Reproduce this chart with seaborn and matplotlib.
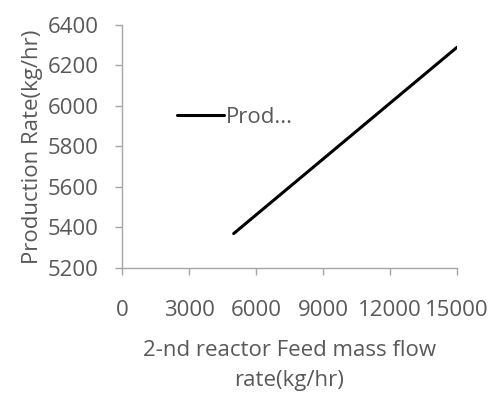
import matplotlib
matplotlib.use("Agg")
import matplotlib.pyplot as plt
import seaborn as sns
import pandas as pd

feed_flow = [5000, 10000, 15000]
production = [5370, 5830, 6290]
series_name = "Prod..."
x_ticks = [0, 3000, 6000, 9000, 12000, 15000]
y_ticks = [5200, 5400, 5600, 5800, 6000, 6200, 6400]

sns.set_theme(style="white")
plt.rcParams['font.family'] = ['Open Sans', 'DejaVu Sans']

df = pd.DataFrame({"x": feed_flow, "y": production, "s": series_name})

fig = plt.figure(figsize=(4.93, 4.03), dpi=100)
ax = fig.add_axes([0.2475, 0.335, 0.6795, 0.603])
sns.lineplot(data=df, x="x", y="y", hue="s", palette=["black"], linewidth=2.2, ax=ax)

gray = "#595959"
spine_c = "#A6A6A6"
fs = 16
ax.set_xlim(0, 15000)
ax.set_ylim(5200, 6400)
ax.set_xticks(x_ticks)
ax.set_yticks(y_ticks)
ax.set_xticklabels([str(v) for v in x_ticks])
ax.set_yticklabels([str(v) for v in y_ticks])
for s in ["top", "right"]:
    ax.spines[s].set_visible(False)
for s in ["left", "bottom"]:
    ax.spines[s].set_color(spine_c)
    ax.spines[s].set_linewidth(1.0)
ax.tick_params(axis="x", direction="out", length=5, width=1, color=spine_c, labelsize=fs, labelcolor=gray, pad=18, bottom=True)
ax.tick_params(axis="y", direction="out", length=5, width=1, color=spine_c, labelsize=fs, labelcolor=gray, pad=12, left=True)

ax.set_xlabel("2-nd reactor Feed mass flow\nrate(kg/hr)", fontsize=fs, color=gray, labelpad=14, linespacing=1.55)
ax.set_ylabel("Production Rate(kg/hr)", fontsize=fs, color=gray, labelpad=3)

leg = ax.legend(loc="center left", bbox_to_anchor=(0.165, 0.62), frameon=False,
                fontsize=fs, handlelength=2.1, handletextpad=0.1, borderaxespad=0,
                borderpad=0)
for t in leg.get_texts():
    t.set_color(gray)

fig.savefig("out.png", dpi=100)
